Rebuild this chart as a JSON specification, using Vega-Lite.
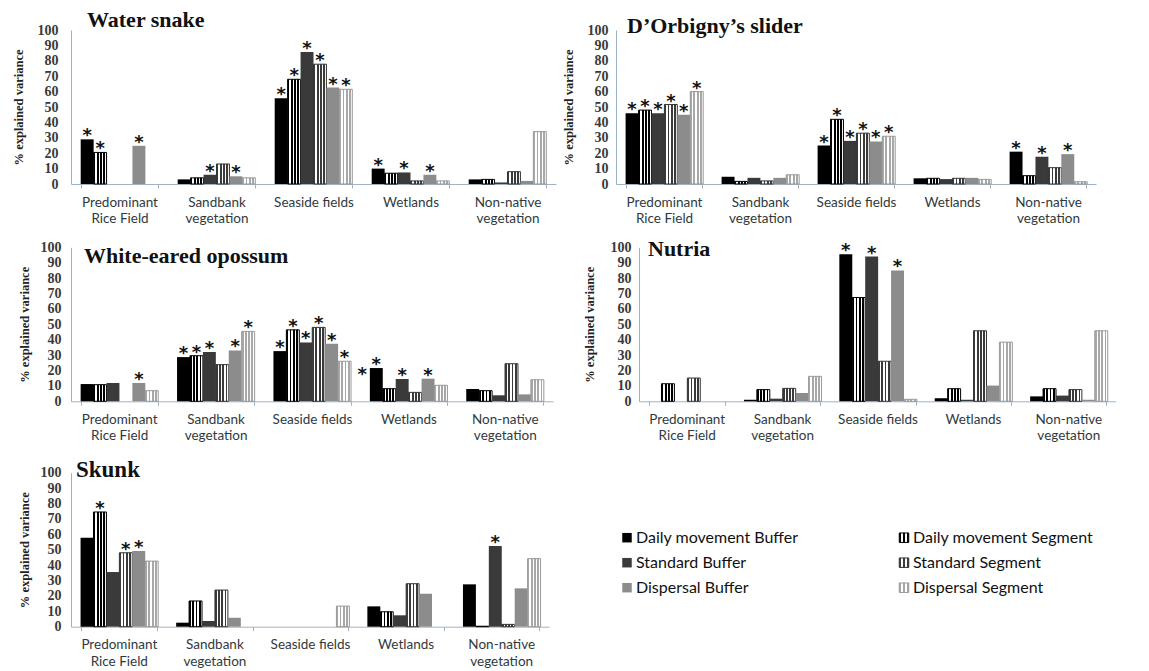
{
"$schema":"https://vega.github.io/schema/vega-lite/v6.json",
"background":"white",
"padding":{"left":12,"top":9,"right":0,"bottom":0},
"datasets":{
"bars":[
{"p":"WS","c":"Predominant Rice Field","s":"DB","v":29,"a":1},
{"p":"WS","c":"Predominant Rice Field","s":"DS","v":20.5,"a":1},
{"p":"WS","c":"Predominant Rice Field","s":"PB","v":24.8,"a":1},
{"p":"WS","c":"Sandbank vegetation","s":"DB","v":3},
{"p":"WS","c":"Sandbank vegetation","s":"DS","v":4},
{"p":"WS","c":"Sandbank vegetation","s":"SB","v":6,"a":1},
{"p":"WS","c":"Sandbank vegetation","s":"SS","v":13},
{"p":"WS","c":"Sandbank vegetation","s":"PB","v":5,"a":1},
{"p":"WS","c":"Sandbank vegetation","s":"PS","v":4},
{"p":"WS","c":"Seaside fields","s":"DB","v":55.7,"a":1},
{"p":"WS","c":"Seaside fields","s":"DS","v":68,"a":1},
{"p":"WS","c":"Seaside fields","s":"SB","v":85.7,"a":1},
{"p":"WS","c":"Seaside fields","s":"SS","v":77.8,"a":1},
{"p":"WS","c":"Seaside fields","s":"PB","v":62.6,"a":1},
{"p":"WS","c":"Seaside fields","s":"PS","v":61.5,"a":1},
{"p":"WS","c":"Wetlands","s":"DB","v":10,"a":1},
{"p":"WS","c":"Wetlands","s":"DS","v":7},
{"p":"WS","c":"Wetlands","s":"SB","v":7.5,"a":1},
{"p":"WS","c":"Wetlands","s":"SS","v":2},
{"p":"WS","c":"Wetlands","s":"PB","v":6,"a":1},
{"p":"WS","c":"Wetlands","s":"PS","v":2},
{"p":"WS","c":"Non-native vegetation","s":"DB","v":3},
{"p":"WS","c":"Non-native vegetation","s":"DS","v":3},
{"p":"WS","c":"Non-native vegetation","s":"SB","v":1},
{"p":"WS","c":"Non-native vegetation","s":"SS","v":8},
{"p":"WS","c":"Non-native vegetation","s":"PB","v":2},
{"p":"WS","c":"Non-native vegetation","s":"PS","v":34},
{"p":"DO","c":"Predominant Rice Field","s":"DB","v":46,"a":1},
{"p":"DO","c":"Predominant Rice Field","s":"DS","v":48,"a":1},
{"p":"DO","c":"Predominant Rice Field","s":"SB","v":46,"a":1},
{"p":"DO","c":"Predominant Rice Field","s":"SS","v":51.6,"a":1},
{"p":"DO","c":"Predominant Rice Field","s":"PB","v":45,"a":1},
{"p":"DO","c":"Predominant Rice Field","s":"PS","v":60,"a":1},
{"p":"DO","c":"Sandbank vegetation","s":"DB","v":4.7},
{"p":"DO","c":"Sandbank vegetation","s":"DS","v":1.7},
{"p":"DO","c":"Sandbank vegetation","s":"SB","v":4},
{"p":"DO","c":"Sandbank vegetation","s":"SS","v":2},
{"p":"DO","c":"Sandbank vegetation","s":"PB","v":4},
{"p":"DO","c":"Sandbank vegetation","s":"PS","v":6},
{"p":"DO","c":"Seaside fields","s":"DB","v":25,"a":1},
{"p":"DO","c":"Seaside fields","s":"DS","v":42,"a":1},
{"p":"DO","c":"Seaside fields","s":"SB","v":28,"a":1},
{"p":"DO","c":"Seaside fields","s":"SS","v":33,"a":1},
{"p":"DO","c":"Seaside fields","s":"PB","v":27.6,"a":1},
{"p":"DO","c":"Seaside fields","s":"PS","v":31,"a":1},
{"p":"DO","c":"Wetlands","s":"DB","v":3.7},
{"p":"DO","c":"Wetlands","s":"DS","v":3.7},
{"p":"DO","c":"Wetlands","s":"SB","v":3.2},
{"p":"DO","c":"Wetlands","s":"SS","v":3.7},
{"p":"DO","c":"Wetlands","s":"PB","v":4},
{"p":"DO","c":"Wetlands","s":"PS","v":3},
{"p":"DO","c":"Non-native vegetation","s":"DB","v":21,"a":1},
{"p":"DO","c":"Non-native vegetation","s":"DS","v":5.4},
{"p":"DO","c":"Non-native vegetation","s":"SB","v":17.7,"a":1},
{"p":"DO","c":"Non-native vegetation","s":"SS","v":10.6},
{"p":"DO","c":"Non-native vegetation","s":"PB","v":19.4,"a":1},
{"p":"DO","c":"Non-native vegetation","s":"PS","v":1.5},
{"p":"WO","c":"Predominant Rice Field","s":"DB","v":11.2},
{"p":"WO","c":"Predominant Rice Field","s":"DS","v":10.8},
{"p":"WO","c":"Predominant Rice Field","s":"SB","v":11.9},
{"p":"WO","c":"Predominant Rice Field","s":"PB","v":11.9,"a":1},
{"p":"WO","c":"Predominant Rice Field","s":"PS","v":6.9},
{"p":"WO","c":"Sandbank vegetation","s":"DB","v":28.7,"a":1},
{"p":"WO","c":"Sandbank vegetation","s":"DS","v":29.6,"a":1},
{"p":"WO","c":"Sandbank vegetation","s":"SB","v":32,"a":1},
{"p":"WO","c":"Sandbank vegetation","s":"SS","v":23.8},
{"p":"WO","c":"Sandbank vegetation","s":"PB","v":33,"a":1},
{"p":"WO","c":"Sandbank vegetation","s":"PS","v":45.4,"a":1},
{"p":"WO","c":"Seaside fields","s":"DB","v":32.6,"a":1},
{"p":"WO","c":"Seaside fields","s":"DS","v":46.4,"a":1},
{"p":"WO","c":"Seaside fields","s":"SB","v":38.2,"a":1},
{"p":"WO","c":"Seaside fields","s":"SS","v":48,"a":1},
{"p":"WO","c":"Seaside fields","s":"PB","v":37.4,"a":1},
{"p":"WO","c":"Seaside fields","s":"PS","v":26,"a":1},
{"p":"WO","c":"Wetlands","s":"DB","v":21.6,"a":1,"b":1},
{"p":"WO","c":"Wetlands","s":"DS","v":8.2},
{"p":"WO","c":"Wetlands","s":"SB","v":14.5,"a":1},
{"p":"WO","c":"Wetlands","s":"SS","v":5.8},
{"p":"WO","c":"Wetlands","s":"PB","v":14.7,"a":1},
{"p":"WO","c":"Wetlands","s":"PS","v":10.4},
{"p":"WO","c":"Non-native vegetation","s":"DB","v":8},
{"p":"WO","c":"Non-native vegetation","s":"DS","v":6.9},
{"p":"WO","c":"Non-native vegetation","s":"SB","v":3.9},
{"p":"WO","c":"Non-native vegetation","s":"SS","v":24.4},
{"p":"WO","c":"Non-native vegetation","s":"PB","v":4.5},
{"p":"WO","c":"Non-native vegetation","s":"PS","v":14},
{"p":"NU","c":"Predominant Rice Field","s":"DS","v":11.4},
{"p":"NU","c":"Predominant Rice Field","s":"SS","v":15.1},
{"p":"NU","c":"Sandbank vegetation","s":"DB","v":1},
{"p":"NU","c":"Sandbank vegetation","s":"DS","v":7.6},
{"p":"NU","c":"Sandbank vegetation","s":"SB","v":1.7},
{"p":"NU","c":"Sandbank vegetation","s":"SS","v":8.4},
{"p":"NU","c":"Sandbank vegetation","s":"PB","v":5.4},
{"p":"NU","c":"Sandbank vegetation","s":"PS","v":16.2},
{"p":"NU","c":"Seaside fields","s":"DB","v":95.5,"a":1},
{"p":"NU","c":"Seaside fields","s":"DS","v":67.4},
{"p":"NU","c":"Seaside fields","s":"SB","v":94,"a":1},
{"p":"NU","c":"Seaside fields","s":"SS","v":26},
{"p":"NU","c":"Seaside fields","s":"PB","v":85,"a":1},
{"p":"NU","c":"Seaside fields","s":"PS","v":1.3},
{"p":"NU","c":"Wetlands","s":"DB","v":2},
{"p":"NU","c":"Wetlands","s":"DS","v":8.2},
{"p":"NU","c":"Wetlands","s":"SB","v":1},
{"p":"NU","c":"Wetlands","s":"SS","v":45.8},
{"p":"NU","c":"Wetlands","s":"PB","v":10.2},
{"p":"NU","c":"Wetlands","s":"PS","v":38.4},
{"p":"NU","c":"Non-native vegetation","s":"DB","v":3.2},
{"p":"NU","c":"Non-native vegetation","s":"DS","v":8.2},
{"p":"NU","c":"Non-native vegetation","s":"SB","v":3.7},
{"p":"NU","c":"Non-native vegetation","s":"SS","v":7.6},
{"p":"NU","c":"Non-native vegetation","s":"PB","v":1},
{"p":"NU","c":"Non-native vegetation","s":"PS","v":45.8},
{"p":"SK","c":"Predominant Rice Field","s":"DB","v":57.8},
{"p":"SK","c":"Predominant Rice Field","s":"DS","v":74.5,"a":1},
{"p":"SK","c":"Predominant Rice Field","s":"SB","v":35.5},
{"p":"SK","c":"Predominant Rice Field","s":"SS","v":48,"a":1},
{"p":"SK","c":"Predominant Rice Field","s":"PB","v":49.1,"a":1},
{"p":"SK","c":"Predominant Rice Field","s":"PS","v":42.6},
{"p":"SK","c":"Sandbank vegetation","s":"DB","v":2.6},
{"p":"SK","c":"Sandbank vegetation","s":"DS","v":16.7},
{"p":"SK","c":"Sandbank vegetation","s":"SB","v":3.7},
{"p":"SK","c":"Sandbank vegetation","s":"SS","v":23.8},
{"p":"SK","c":"Sandbank vegetation","s":"PB","v":5.8},
{"p":"SK","c":"Seaside fields","s":"PS","v":13.4},
{"p":"SK","c":"Wetlands","s":"DB","v":13.2},
{"p":"SK","c":"Wetlands","s":"DS","v":9.7},
{"p":"SK","c":"Wetlands","s":"SB","v":7.4},
{"p":"SK","c":"Wetlands","s":"SS","v":27.9},
{"p":"SK","c":"Wetlands","s":"PB","v":21.4},
{"p":"SK","c":"Non-native vegetation","s":"DB","v":27.5},
{"p":"SK","c":"Non-native vegetation","s":"DS","v":0.3},
{"p":"SK","c":"Non-native vegetation","s":"SB","v":52.4,"a":1},
{"p":"SK","c":"Non-native vegetation","s":"SS","v":1.5},
{"p":"SK","c":"Non-native vegetation","s":"PB","v":24.9},
{"p":"SK","c":"Non-native vegetation","s":"PS","v":44.2}
],
"legend":[
{"s":"DB","k":"Buffer","g":"Daily movement","lab":"Daily movement Buffer"},
{"s":"SB","k":"Buffer","g":"Standard","lab":"Standard Buffer"},
{"s":"PB","k":"Buffer","g":"Dispersal","lab":"Dispersal Buffer"},
{"s":"DS","k":"Segment","g":"Daily movement","lab":"Daily movement Segment"},
{"s":"SS","k":"Segment","g":"Standard","lab":"Standard Segment"},
{"s":"PS","k":"Segment","g":"Dispersal","lab":"Dispersal Segment"}
]
},
"vconcat":[
{"hconcat":[
{"width":485,"height":154,"data":{"name":"bars"},"transform":[{"filter":"datum.p==='WS'"}],
"title":{"text":"Water snake","anchor":"start","frame":"group","dx":16,"offset":-26,"baseline":"alphabetic"},
"encoding":{
"x":{"field":"c","type":"nominal","sort":["Predominant Rice Field","Sandbank vegetation","Seaside fields","Wetlands","Non-native vegetation"],"scale":{"domain":["Predominant Rice Field","Sandbank vegetation","Seaside fields","Wetlands","Non-native vegetation"],"paddingInner":0.2,"paddingOuter":0.1},"axis":{"title":null,"labelExpr":"datum.label==='Predominant Rice Field'?['Predominant','Rice Field']:datum.label==='Sandbank vegetation'?['Sandbank','vegetation']:datum.label==='Non-native vegetation'?['Non-native','vegetation']:datum.label"}},
"xOffset":{"field":"s","type":"nominal","scale":{"domain":["DB","DS","SB","SS","PB","PS"],"paddingInner":0,"paddingOuter":0}},
"y":{"field":"v","type":"quantitative","scale":{"domain":[0,100],"nice":false},"axis":{"title":"% explained variance","values":[0,10,20,30,40,50,60,70,80,90,100],"labelPadding":13,"titlePadding":12}}
},
"layer":[
{"mark":{"type":"bar","strokeWidth":1},"encoding":{
"fill":{"condition":[
{"test":"datum.s==='DS'","value":{"gradient":"linear","x1":0,"y1":0,"x2":1,"y2":0,"stops":[{"offset":0,"color":"#000"},{"offset":0.14,"color":"#000"},{"offset":0.14,"color":"#fff"},{"offset":0.25,"color":"#fff"},{"offset":0.25,"color":"#000"},{"offset":0.39,"color":"#000"},{"offset":0.39,"color":"#fff"},{"offset":0.5,"color":"#fff"},{"offset":0.5,"color":"#000"},{"offset":0.64,"color":"#000"},{"offset":0.64,"color":"#fff"},{"offset":0.75,"color":"#fff"},{"offset":0.75,"color":"#000"},{"offset":0.89,"color":"#000"},{"offset":0.89,"color":"#fff"},{"offset":1,"color":"#fff"}]}},
{"test":"datum.s==='SS'","value":{"gradient":"linear","x1":0,"y1":0,"x2":1,"y2":0,"stops":[{"offset":0,"color":"#3a3a3a"},{"offset":0.14,"color":"#3a3a3a"},{"offset":0.14,"color":"#fff"},{"offset":0.25,"color":"#fff"},{"offset":0.25,"color":"#3a3a3a"},{"offset":0.39,"color":"#3a3a3a"},{"offset":0.39,"color":"#fff"},{"offset":0.5,"color":"#fff"},{"offset":0.5,"color":"#3a3a3a"},{"offset":0.64,"color":"#3a3a3a"},{"offset":0.64,"color":"#fff"},{"offset":0.75,"color":"#fff"},{"offset":0.75,"color":"#3a3a3a"},{"offset":0.89,"color":"#3a3a3a"},{"offset":0.89,"color":"#fff"},{"offset":1,"color":"#fff"}]}},
{"test":"datum.s==='PS'","value":{"gradient":"linear","x1":0,"y1":0,"x2":1,"y2":0,"stops":[{"offset":0,"color":"#a8a8a8"},{"offset":0.14,"color":"#a8a8a8"},{"offset":0.14,"color":"#fff"},{"offset":0.25,"color":"#fff"},{"offset":0.25,"color":"#a8a8a8"},{"offset":0.39,"color":"#a8a8a8"},{"offset":0.39,"color":"#fff"},{"offset":0.5,"color":"#fff"},{"offset":0.5,"color":"#a8a8a8"},{"offset":0.64,"color":"#a8a8a8"},{"offset":0.64,"color":"#fff"},{"offset":0.75,"color":"#fff"},{"offset":0.75,"color":"#a8a8a8"},{"offset":0.89,"color":"#a8a8a8"},{"offset":0.89,"color":"#fff"},{"offset":1,"color":"#fff"}]}},
{"test":"datum.s==='SB'","value":"#3a3a3a"},
{"test":"datum.s==='PB'","value":"#8c8c8c"}],"value":"#000"},
"stroke":{"condition":[{"test":"datum.s==='DS'","value":"#000"},{"test":"datum.s==='SS'","value":"#333"},{"test":"datum.s==='PS'","value":"#999"}],"value":null}}},
{"transform":[{"filter":"datum.a===1"}],"mark":{"type":"text","text":"*","font":"DejaVu Sans","fontWeight":"bold","fontSize":18,"baseline":"alphabetic","dy":2,"color":"#111"}}
]},
{"width":480,"height":154,"data":{"name":"bars"},"transform":[{"filter":"datum.p==='DO'"}],
"title":{"text":"D’Orbigny’s slider","anchor":"start","frame":"group","dx":11,"offset":-31.6,"baseline":"alphabetic"},
"encoding":{
"x":{"field":"c","type":"nominal","sort":["Predominant Rice Field","Sandbank vegetation","Seaside fields","Wetlands","Non-native vegetation"],"scale":{"domain":["Predominant Rice Field","Sandbank vegetation","Seaside fields","Wetlands","Non-native vegetation"],"paddingInner":0.2,"paddingOuter":0.1},"axis":{"title":null,"labelExpr":"datum.label==='Predominant Rice Field'?['Predominant','Rice Field']:datum.label==='Sandbank vegetation'?['Sandbank','vegetation']:datum.label==='Non-native vegetation'?['Non-native','vegetation']:datum.label"}},
"xOffset":{"field":"s","type":"nominal","scale":{"domain":["DB","DS","SB","SS","PB","PS"],"paddingInner":0,"paddingOuter":0}},
"y":{"field":"v","type":"quantitative","scale":{"domain":[0,100],"nice":false},"axis":{"title":"% explained variance","values":[0,10,20,30,40,50,60,70,80,90,100],"labelPadding":8,"titlePadding":12}}
},
"layer":[
{"mark":{"type":"bar","strokeWidth":1},"encoding":{
"fill":{"condition":[
{"test":"datum.s==='DS'","value":{"gradient":"linear","x1":0,"y1":0,"x2":1,"y2":0,"stops":[{"offset":0,"color":"#000"},{"offset":0.14,"color":"#000"},{"offset":0.14,"color":"#fff"},{"offset":0.25,"color":"#fff"},{"offset":0.25,"color":"#000"},{"offset":0.39,"color":"#000"},{"offset":0.39,"color":"#fff"},{"offset":0.5,"color":"#fff"},{"offset":0.5,"color":"#000"},{"offset":0.64,"color":"#000"},{"offset":0.64,"color":"#fff"},{"offset":0.75,"color":"#fff"},{"offset":0.75,"color":"#000"},{"offset":0.89,"color":"#000"},{"offset":0.89,"color":"#fff"},{"offset":1,"color":"#fff"}]}},
{"test":"datum.s==='SS'","value":{"gradient":"linear","x1":0,"y1":0,"x2":1,"y2":0,"stops":[{"offset":0,"color":"#3a3a3a"},{"offset":0.14,"color":"#3a3a3a"},{"offset":0.14,"color":"#fff"},{"offset":0.25,"color":"#fff"},{"offset":0.25,"color":"#3a3a3a"},{"offset":0.39,"color":"#3a3a3a"},{"offset":0.39,"color":"#fff"},{"offset":0.5,"color":"#fff"},{"offset":0.5,"color":"#3a3a3a"},{"offset":0.64,"color":"#3a3a3a"},{"offset":0.64,"color":"#fff"},{"offset":0.75,"color":"#fff"},{"offset":0.75,"color":"#3a3a3a"},{"offset":0.89,"color":"#3a3a3a"},{"offset":0.89,"color":"#fff"},{"offset":1,"color":"#fff"}]}},
{"test":"datum.s==='PS'","value":{"gradient":"linear","x1":0,"y1":0,"x2":1,"y2":0,"stops":[{"offset":0,"color":"#a8a8a8"},{"offset":0.14,"color":"#a8a8a8"},{"offset":0.14,"color":"#fff"},{"offset":0.25,"color":"#fff"},{"offset":0.25,"color":"#a8a8a8"},{"offset":0.39,"color":"#a8a8a8"},{"offset":0.39,"color":"#fff"},{"offset":0.5,"color":"#fff"},{"offset":0.5,"color":"#a8a8a8"},{"offset":0.64,"color":"#a8a8a8"},{"offset":0.64,"color":"#fff"},{"offset":0.75,"color":"#fff"},{"offset":0.75,"color":"#a8a8a8"},{"offset":0.89,"color":"#a8a8a8"},{"offset":0.89,"color":"#fff"},{"offset":1,"color":"#fff"}]}},
{"test":"datum.s==='SB'","value":"#3a3a3a"},
{"test":"datum.s==='PB'","value":"#8c8c8c"}],"value":"#000"},
"stroke":{"condition":[{"test":"datum.s==='DS'","value":"#000"},{"test":"datum.s==='SS'","value":"#333"},{"test":"datum.s==='PS'","value":"#999"}],"value":null}}},
{"transform":[{"filter":"datum.a===1"}],"mark":{"type":"text","text":"*","font":"DejaVu Sans","fontWeight":"bold","fontSize":18,"baseline":"alphabetic","dy":2,"color":"#111"}}
]}
],"spacing":60,"bounds":"flush"},
{"vconcat":[
{"hconcat":[
{"width":482,"height":154,"data":{"name":"bars"},"transform":[{"filter":"datum.p==='WO'"}],
"title":{"text":"White-eared opossum","anchor":"start","frame":"group","dx":13,"offset":-45,"baseline":"alphabetic"},
"encoding":{
"x":{"field":"c","type":"nominal","sort":["Predominant Rice Field","Sandbank vegetation","Seaside fields","Wetlands","Non-native vegetation"],"scale":{"domain":["Predominant Rice Field","Sandbank vegetation","Seaside fields","Wetlands","Non-native vegetation"],"paddingInner":0.2,"paddingOuter":0.1},"axis":{"title":null,"labelExpr":"datum.label==='Predominant Rice Field'?['Predominant','Rice Field']:datum.label==='Sandbank vegetation'?['Sandbank','vegetation']:datum.label==='Non-native vegetation'?['Non-native','vegetation']:datum.label"}},
"xOffset":{"field":"s","type":"nominal","scale":{"domain":["DB","DS","SB","SS","PB","PS"],"paddingInner":0,"paddingOuter":0}},
"y":{"field":"v","type":"quantitative","scale":{"domain":[0,100],"nice":false},"axis":{"title":"% explained variance","values":[0,10,20,30,40,50,60,70,80,90,100],"labelPadding":10,"titlePadding":9}}
},
"layer":[
{"mark":{"type":"bar","strokeWidth":1},"encoding":{
"fill":{"condition":[
{"test":"datum.s==='DS'","value":{"gradient":"linear","x1":0,"y1":0,"x2":1,"y2":0,"stops":[{"offset":0,"color":"#000"},{"offset":0.14,"color":"#000"},{"offset":0.14,"color":"#fff"},{"offset":0.25,"color":"#fff"},{"offset":0.25,"color":"#000"},{"offset":0.39,"color":"#000"},{"offset":0.39,"color":"#fff"},{"offset":0.5,"color":"#fff"},{"offset":0.5,"color":"#000"},{"offset":0.64,"color":"#000"},{"offset":0.64,"color":"#fff"},{"offset":0.75,"color":"#fff"},{"offset":0.75,"color":"#000"},{"offset":0.89,"color":"#000"},{"offset":0.89,"color":"#fff"},{"offset":1,"color":"#fff"}]}},
{"test":"datum.s==='SS'","value":{"gradient":"linear","x1":0,"y1":0,"x2":1,"y2":0,"stops":[{"offset":0,"color":"#3a3a3a"},{"offset":0.14,"color":"#3a3a3a"},{"offset":0.14,"color":"#fff"},{"offset":0.25,"color":"#fff"},{"offset":0.25,"color":"#3a3a3a"},{"offset":0.39,"color":"#3a3a3a"},{"offset":0.39,"color":"#fff"},{"offset":0.5,"color":"#fff"},{"offset":0.5,"color":"#3a3a3a"},{"offset":0.64,"color":"#3a3a3a"},{"offset":0.64,"color":"#fff"},{"offset":0.75,"color":"#fff"},{"offset":0.75,"color":"#3a3a3a"},{"offset":0.89,"color":"#3a3a3a"},{"offset":0.89,"color":"#fff"},{"offset":1,"color":"#fff"}]}},
{"test":"datum.s==='PS'","value":{"gradient":"linear","x1":0,"y1":0,"x2":1,"y2":0,"stops":[{"offset":0,"color":"#a8a8a8"},{"offset":0.14,"color":"#a8a8a8"},{"offset":0.14,"color":"#fff"},{"offset":0.25,"color":"#fff"},{"offset":0.25,"color":"#a8a8a8"},{"offset":0.39,"color":"#a8a8a8"},{"offset":0.39,"color":"#fff"},{"offset":0.5,"color":"#fff"},{"offset":0.5,"color":"#a8a8a8"},{"offset":0.64,"color":"#a8a8a8"},{"offset":0.64,"color":"#fff"},{"offset":0.75,"color":"#fff"},{"offset":0.75,"color":"#a8a8a8"},{"offset":0.89,"color":"#a8a8a8"},{"offset":0.89,"color":"#fff"},{"offset":1,"color":"#fff"}]}},
{"test":"datum.s==='SB'","value":"#3a3a3a"},
{"test":"datum.s==='PB'","value":"#8c8c8c"}],"value":"#000"},
"stroke":{"condition":[{"test":"datum.s==='DS'","value":"#000"},{"test":"datum.s==='SS'","value":"#333"},{"test":"datum.s==='PS'","value":"#999"}],"value":null}}},
{"transform":[{"filter":"datum.a===1"}],"mark":{"type":"text","text":"*","font":"DejaVu Sans","fontWeight":"bold","fontSize":18,"baseline":"alphabetic","dy":2,"color":"#111"}},
{"transform":[{"filter":"datum.b===1"}],"mark":{"type":"text","text":"*","font":"DejaVu Sans","fontWeight":"bold","fontSize":18,"baseline":"alphabetic","dx":-14,"dy":12,"color":"#111"}}
]},
{"width":477,"height":154,"data":{"name":"bars"},"transform":[{"filter":"datum.p==='NU'"}],
"title":{"text":"Nutria","anchor":"start","frame":"group","dx":9,"offset":-37.7,"baseline":"alphabetic"},
"encoding":{
"x":{"field":"c","type":"nominal","sort":["Predominant Rice Field","Sandbank vegetation","Seaside fields","Wetlands","Non-native vegetation"],"scale":{"domain":["Predominant Rice Field","Sandbank vegetation","Seaside fields","Wetlands","Non-native vegetation"],"paddingInner":0.2,"paddingOuter":0.1},"axis":{"title":null,"labelExpr":"datum.label==='Predominant Rice Field'?['Predominant','Rice Field']:datum.label==='Sandbank vegetation'?['Sandbank','vegetation']:datum.label==='Non-native vegetation'?['Non-native','vegetation']:datum.label"}},
"xOffset":{"field":"s","type":"nominal","scale":{"domain":["DB","DS","SB","SS","PB","PS"],"paddingInner":0,"paddingOuter":0}},
"y":{"field":"v","type":"quantitative","scale":{"domain":[0,100],"nice":false},"axis":{"title":"% explained variance","values":[0,10,20,30,40,50,60,70,80,90,100],"labelPadding":8,"titlePadding":14}}
},
"layer":[
{"mark":{"type":"bar","strokeWidth":1},"encoding":{
"fill":{"condition":[
{"test":"datum.s==='DS'","value":{"gradient":"linear","x1":0,"y1":0,"x2":1,"y2":0,"stops":[{"offset":0,"color":"#000"},{"offset":0.14,"color":"#000"},{"offset":0.14,"color":"#fff"},{"offset":0.25,"color":"#fff"},{"offset":0.25,"color":"#000"},{"offset":0.39,"color":"#000"},{"offset":0.39,"color":"#fff"},{"offset":0.5,"color":"#fff"},{"offset":0.5,"color":"#000"},{"offset":0.64,"color":"#000"},{"offset":0.64,"color":"#fff"},{"offset":0.75,"color":"#fff"},{"offset":0.75,"color":"#000"},{"offset":0.89,"color":"#000"},{"offset":0.89,"color":"#fff"},{"offset":1,"color":"#fff"}]}},
{"test":"datum.s==='SS'","value":{"gradient":"linear","x1":0,"y1":0,"x2":1,"y2":0,"stops":[{"offset":0,"color":"#3a3a3a"},{"offset":0.14,"color":"#3a3a3a"},{"offset":0.14,"color":"#fff"},{"offset":0.25,"color":"#fff"},{"offset":0.25,"color":"#3a3a3a"},{"offset":0.39,"color":"#3a3a3a"},{"offset":0.39,"color":"#fff"},{"offset":0.5,"color":"#fff"},{"offset":0.5,"color":"#3a3a3a"},{"offset":0.64,"color":"#3a3a3a"},{"offset":0.64,"color":"#fff"},{"offset":0.75,"color":"#fff"},{"offset":0.75,"color":"#3a3a3a"},{"offset":0.89,"color":"#3a3a3a"},{"offset":0.89,"color":"#fff"},{"offset":1,"color":"#fff"}]}},
{"test":"datum.s==='PS'","value":{"gradient":"linear","x1":0,"y1":0,"x2":1,"y2":0,"stops":[{"offset":0,"color":"#a8a8a8"},{"offset":0.14,"color":"#a8a8a8"},{"offset":0.14,"color":"#fff"},{"offset":0.25,"color":"#fff"},{"offset":0.25,"color":"#a8a8a8"},{"offset":0.39,"color":"#a8a8a8"},{"offset":0.39,"color":"#fff"},{"offset":0.5,"color":"#fff"},{"offset":0.5,"color":"#a8a8a8"},{"offset":0.64,"color":"#a8a8a8"},{"offset":0.64,"color":"#fff"},{"offset":0.75,"color":"#fff"},{"offset":0.75,"color":"#a8a8a8"},{"offset":0.89,"color":"#a8a8a8"},{"offset":0.89,"color":"#fff"},{"offset":1,"color":"#fff"}]}},
{"test":"datum.s==='SB'","value":"#3a3a3a"},
{"test":"datum.s==='PB'","value":"#8c8c8c"}],"value":"#000"},
"stroke":{"condition":[{"test":"datum.s==='DS'","value":"#000"},{"test":"datum.s==='SS'","value":"#333"},{"test":"datum.s==='PS'","value":"#999"}],"value":null}}},
{"transform":[{"filter":"datum.a===1"}],"mark":{"type":"text","text":"*","font":"DejaVu Sans","fontWeight":"bold","fontSize":18,"baseline":"alphabetic","dy":2,"color":"#111"}}
]}
],"spacing":86,"bounds":"flush"},
{"hconcat":[
{"width":478,"height":154,"data":{"name":"bars"},"transform":[{"filter":"datum.p==='SK'"}],
"title":{"text":"Skunk","anchor":"start","frame":"group","dx":5,"offset":-34,"baseline":"alphabetic","fontSize":23},
"encoding":{
"x":{"field":"c","type":"nominal","sort":["Predominant Rice Field","Sandbank vegetation","Seaside fields","Wetlands","Non-native vegetation"],"scale":{"domain":["Predominant Rice Field","Sandbank vegetation","Seaside fields","Wetlands","Non-native vegetation"],"paddingInner":0.2,"paddingOuter":0.1},"axis":{"title":null,"labelExpr":"datum.label==='Predominant Rice Field'?['Predominant','Rice Field']:datum.label==='Sandbank vegetation'?['Sandbank','vegetation']:datum.label==='Non-native vegetation'?['Non-native','vegetation']:datum.label"}},
"xOffset":{"field":"s","type":"nominal","scale":{"domain":["DB","DS","SB","SS","PB","PS"],"paddingInner":0,"paddingOuter":0}},
"y":{"field":"v","type":"quantitative","scale":{"domain":[0,100],"nice":false},"axis":{"title":"% explained variance","values":[0,10,20,30,40,50,60,70,80,90,100],"labelPadding":10,"titlePadding":9}}
},
"layer":[
{"mark":{"type":"bar","strokeWidth":1},"encoding":{
"fill":{"condition":[
{"test":"datum.s==='DS'","value":{"gradient":"linear","x1":0,"y1":0,"x2":1,"y2":0,"stops":[{"offset":0,"color":"#000"},{"offset":0.14,"color":"#000"},{"offset":0.14,"color":"#fff"},{"offset":0.25,"color":"#fff"},{"offset":0.25,"color":"#000"},{"offset":0.39,"color":"#000"},{"offset":0.39,"color":"#fff"},{"offset":0.5,"color":"#fff"},{"offset":0.5,"color":"#000"},{"offset":0.64,"color":"#000"},{"offset":0.64,"color":"#fff"},{"offset":0.75,"color":"#fff"},{"offset":0.75,"color":"#000"},{"offset":0.89,"color":"#000"},{"offset":0.89,"color":"#fff"},{"offset":1,"color":"#fff"}]}},
{"test":"datum.s==='SS'","value":{"gradient":"linear","x1":0,"y1":0,"x2":1,"y2":0,"stops":[{"offset":0,"color":"#3a3a3a"},{"offset":0.14,"color":"#3a3a3a"},{"offset":0.14,"color":"#fff"},{"offset":0.25,"color":"#fff"},{"offset":0.25,"color":"#3a3a3a"},{"offset":0.39,"color":"#3a3a3a"},{"offset":0.39,"color":"#fff"},{"offset":0.5,"color":"#fff"},{"offset":0.5,"color":"#3a3a3a"},{"offset":0.64,"color":"#3a3a3a"},{"offset":0.64,"color":"#fff"},{"offset":0.75,"color":"#fff"},{"offset":0.75,"color":"#3a3a3a"},{"offset":0.89,"color":"#3a3a3a"},{"offset":0.89,"color":"#fff"},{"offset":1,"color":"#fff"}]}},
{"test":"datum.s==='PS'","value":{"gradient":"linear","x1":0,"y1":0,"x2":1,"y2":0,"stops":[{"offset":0,"color":"#a8a8a8"},{"offset":0.14,"color":"#a8a8a8"},{"offset":0.14,"color":"#fff"},{"offset":0.25,"color":"#fff"},{"offset":0.25,"color":"#a8a8a8"},{"offset":0.39,"color":"#a8a8a8"},{"offset":0.39,"color":"#fff"},{"offset":0.5,"color":"#fff"},{"offset":0.5,"color":"#a8a8a8"},{"offset":0.64,"color":"#a8a8a8"},{"offset":0.64,"color":"#fff"},{"offset":0.75,"color":"#fff"},{"offset":0.75,"color":"#a8a8a8"},{"offset":0.89,"color":"#a8a8a8"},{"offset":0.89,"color":"#fff"},{"offset":1,"color":"#fff"}]}},
{"test":"datum.s==='SB'","value":"#3a3a3a"},
{"test":"datum.s==='PB'","value":"#8c8c8c"}],"value":"#000"},
"stroke":{"condition":[{"test":"datum.s==='DS'","value":"#000"},{"test":"datum.s==='SS'","value":"#333"},{"test":"datum.s==='PS'","value":"#999"}],"value":null}}},
{"transform":[{"filter":"datum.a===1"}],"mark":{"type":"text","text":"*","font":"DejaVu Sans","fontWeight":"bold","fontSize":18,"baseline":"alphabetic","dy":2,"color":"#111"}}
]},
{"width":277,"height":154,"data":{"name":"legend"},
"encoding":{
"x":{"field":"k","type":"nominal","scale":{"type":"point","domain":["Buffer","Segment"],"padding":0},"axis":null},
"y":{"field":"g","type":"nominal","scale":{"type":"point","domain":["Daily movement","Standard","Dispersal"],"range":[65,115],"padding":0},"axis":null}
},
"layer":[
{"mark":{"type":"square","size":90,"opacity":1,"strokeWidth":1},"encoding":{
"fill":{"condition":[
{"test":"datum.s==='DS'","value":{"gradient":"linear","x1":0,"y1":0,"x2":1,"y2":0,"stops":[{"offset":0,"color":"#000"},{"offset":0.2,"color":"#000"},{"offset":0.2,"color":"#fff"},{"offset":0.4,"color":"#fff"},{"offset":0.4,"color":"#000"},{"offset":0.6,"color":"#000"},{"offset":0.6,"color":"#fff"},{"offset":0.8,"color":"#fff"},{"offset":0.8,"color":"#000"},{"offset":1,"color":"#000"}]}},
{"test":"datum.s==='SS'","value":{"gradient":"linear","x1":0,"y1":0,"x2":1,"y2":0,"stops":[{"offset":0,"color":"#3a3a3a"},{"offset":0.2,"color":"#3a3a3a"},{"offset":0.2,"color":"#fff"},{"offset":0.4,"color":"#fff"},{"offset":0.4,"color":"#3a3a3a"},{"offset":0.6,"color":"#3a3a3a"},{"offset":0.6,"color":"#fff"},{"offset":0.8,"color":"#fff"},{"offset":0.8,"color":"#3a3a3a"},{"offset":1,"color":"#3a3a3a"}]}},
{"test":"datum.s==='PS'","value":{"gradient":"linear","x1":0,"y1":0,"x2":1,"y2":0,"stops":[{"offset":0,"color":"#a8a8a8"},{"offset":0.2,"color":"#a8a8a8"},{"offset":0.2,"color":"#fff"},{"offset":0.4,"color":"#fff"},{"offset":0.4,"color":"#a8a8a8"},{"offset":0.6,"color":"#a8a8a8"},{"offset":0.6,"color":"#fff"},{"offset":0.8,"color":"#fff"},{"offset":0.8,"color":"#a8a8a8"},{"offset":1,"color":"#a8a8a8"}]}},
{"test":"datum.s==='SB'","value":"#3a3a3a"},
{"test":"datum.s==='PB'","value":"#8c8c8c"}],"value":"#000"},
"stroke":{"condition":[{"test":"datum.s==='DS'","value":"#000"},{"test":"datum.s==='SS'","value":"#333"},{"test":"datum.s==='PS'","value":"#999"}],"value":null}}},
{"mark":{"type":"text","align":"left","dx":9,"baseline":"middle","font":"Lato","fontSize":16,"color":"#111"},"encoding":{"text":{"field":"lab"}}}
]}
],"spacing":78,"bounds":"flush"}
],"spacing":16.4}
],
"spacing":12.3,
"config":{
"view":{"stroke":null},
"title":{"font":"Liberation Serif","fontSize":22,"fontWeight":"bold","color":"#111"},
"axisX":{"labelFont":"Lato","labelFontSize":13.5,"labelColor":"#2f3a3e","labelAngle":0,"labelLineHeight":16.5,"tickBand":"extent","ticks":true,"tickSize":4,"tickColor":"#9fb2c6","domainColor":"#9fb2c6","labelPadding":7,"grid":false},
"axisY":{"labelFont":"Liberation Serif","labelFontWeight":"bold","labelFontSize":14,"labelColor":"#3a3a3a","ticks":false,"domainColor":"#9fb2c6","grid":false,"titleFont":"Liberation Serif","titleFontSize":12.5,"titleFontWeight":"bold","titleColor":"#222"}
}
}
